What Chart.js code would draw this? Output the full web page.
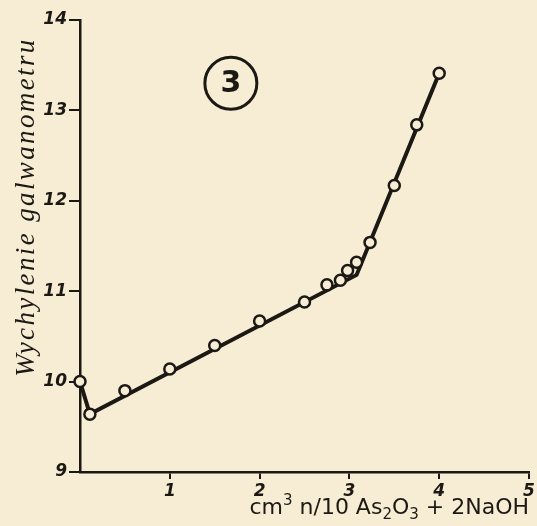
<!DOCTYPE html>
<html>
<head>
    <title>Wychylenie galwanometru</title>
    <meta charset="utf-8" />
    <script src="https://cdn.jsdelivr.net/npm/chart.js@4.4.1/dist/chart.umd.min.js"></script>
    <style>
        html, body {
            margin: 0;
            padding: 0;
            background: #f6edd4;
        }
        #chart {
            display: block;
        }
    </style>
</head>
<body>
    <canvas id="chart" width="537" height="526"></canvas>

    <script>
        // measured points (cm3 of reagent vs galvanometer deflection)
        const volumes = [0, 0.11, 0.5, 1.0, 1.5, 2.0, 2.5, 2.75, 2.9, 2.98, 3.08, 3.23, 3.5, 3.75, 4.0];
        const deflections = [10.0, 9.64, 9.9, 10.14, 10.4, 10.67, 10.88, 11.07, 11.12, 11.23, 11.32, 11.54, 12.17, 12.84, 13.41];

        // hand-drawn fitted line through the points
        const fitX = [0, 0.11, 3.08, 4.0];
        const fitY = [10.0, 9.64, 11.18, 13.41];

        const xTicks = [1, 2, 3, 4, 5];
        const yTicks = [9, 10, 11, 12, 13, 14];

        const yTitle = 'Wychylenie galwanometru';
        // x title pieces: [text, shift] where shift is 'sup', 'sub' or ''
        const xTitleParts = [['cm', ''], ['3', 'sup'], [' n/10 As', ''], ['2', 'sub'], ['O', ''], ['3', 'sub'], [' + 2NaOH', '']];
        const curveLabel = '3';

        const ink = '#1c1814';
        const paper = '#f6edd4';

        const toXY = (xs, ys) => xs.map((x, i) => ({ x: x, y: ys[i] }));

        function partFont(shift) {
            return shift ? '15px "DejaVu Sans"' : '22px "DejaVu Sans"';
        }

        // axis titles and the circled curve number
        const annotate = {
            id: 'annotate',
            afterDraw(chart) {
                const ctx = chart.ctx;
                const xs = chart.scales.x;
                const ys = chart.scales.y;
                ctx.save();
                ctx.fillStyle = ink;
                ctx.strokeStyle = ink;

                // y title, rotated, stretched to the hand-written length
                ctx.save();
                ctx.translate(27, 207);
                ctx.rotate(-Math.PI / 2);
                ctx.font = 'italic 27px "Liberation Serif"';
                const w = ctx.measureText(yTitle).width;
                ctx.letterSpacing = ((337 - w) / (yTitle.length - 1)).toFixed(2) + 'px';
                ctx.textAlign = 'center';
                ctx.textBaseline = 'middle';
                ctx.fillText(yTitle, 0, 0);
                ctx.restore();

                // x title with super/subscripts, right aligned to x = 5
                let total = 0;
                xTitleParts.forEach(([t, s]) => {
                    ctx.font = partFont(s);
                    total += ctx.measureText(t).width;
                });
                let px = xs.getPixelForValue(5) - total;
                const base = 514;
                ctx.textAlign = 'left';
                ctx.textBaseline = 'alphabetic';
                xTitleParts.forEach(([t, s]) => {
                    ctx.font = partFont(s);
                    const dy = s === 'sup' ? -9 : (s === 'sub' ? 5 : 0);
                    ctx.fillText(t, px, base + dy);
                    px += ctx.measureText(t).width;
                });

                // circled number
                const cx = xs.getPixelForValue(1.68);
                const cy = ys.getPixelForValue(13.3);
                ctx.lineWidth = 3;
                ctx.beginPath();
                ctx.arc(cx, cy, 26, 0, Math.PI * 2);
                ctx.stroke();
                ctx.font = 'bold 30px "DejaVu Sans"';
                ctx.textAlign = 'center';
                ctx.textBaseline = 'middle';
                ctx.fillText(curveLabel, cx, cy + 1);
                ctx.restore();
            }
        };

        const tickFont = { family: '"DejaVu Sans"', style: 'italic', weight: 'bold', size: 17 };

        new Chart(document.getElementById('chart'), {
            type: 'scatter',
            data: {
                datasets: [{
                    label: 'fit',
                    data: toXY(fitX, fitY),
                    showLine: true,
                    borderColor: ink,
                    borderWidth: 4,
                    pointRadius: 0,
                    clip: false,
                    order: 2
                }, {
                    label: 'measured',
                    data: toXY(volumes, deflections),
                    showLine: false,
                    pointRadius: 5.5,
                    pointBorderWidth: 2.5,
                    pointBorderColor: ink,
                    pointBackgroundColor: paper,
                    clip: false,
                    order: 1
                }]
            },
            options: {
                responsive: false,
                animation: false,
                layout: {
                    padding: { top: 20, right: 6, left: 0, bottom: 0 }
                },
                plugins: {
                    legend: { display: false },
                    tooltip: { enabled: false }
                },
                scales: {
                    x: {
                        type: 'linear',
                        min: 0,
                        max: 5,
                        afterBuildTicks: (scale) => {
                            scale.ticks = xTicks.map(v => ({ value: v }));
                        },
                        afterFit: (scale) => {
                            scale.height = 54;
                            scale.paddingLeft = 0;
                            scale.paddingRight = 0;
                        },
                        border: { color: ink, width: 2.5 },
                        grid: {
                            drawOnChartArea: false,
                            color: ink,
                            lineWidth: 2,
                            tickLength: 7
                        },
                        ticks: {
                            color: ink,
                            font: tickFont,
                            padding: 2
                        }
                    },
                    y: {
                        type: 'linear',
                        min: 9,
                        max: 14,
                        afterBuildTicks: (scale) => {
                            scale.ticks = yTicks.map(v => ({ value: v }));
                        },
                        afterFit: (scale) => {
                            scale.width = 80;
                        },
                        border: { color: ink, width: 2.5 },
                        grid: {
                            drawOnChartArea: false,
                            color: ink,
                            lineWidth: 2,
                            tickLength: 11
                        },
                        ticks: {
                            color: ink,
                            font: tickFont,
                            padding: 2
                        }
                    }
                }
            },
            plugins: [annotate]
        });
    </script>
</body>
</html>
